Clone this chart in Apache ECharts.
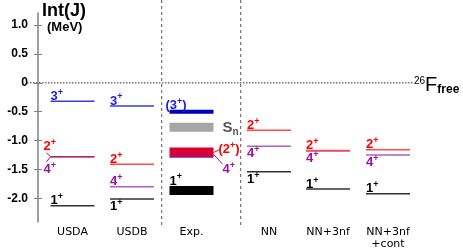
<!DOCTYPE html>
<html><head><meta charset="utf-8">
<script src="https://cdn.jsdelivr.net/npm/echarts@6/dist/echarts.min.js"></script>
<style>html,body{margin:0;padding:0;background:#fff}#c{width:463px;height:250px}</style>
</head><body><div id="c"></div>
<script>
// ---------------- data ----------------
const categories = ['USDA', 'USDB', 'Exp.', 'NN', 'NN+3nf', 'NN+3nf\n+cont'];
const level3 = [-0.32, -0.40, -0.50, null, null, null];
const level2 = [-1.28, -1.41, -1.19, -0.82, -1.17, -1.16];
const level4 = [-1.28, -1.80, -1.27, -1.10, -1.18, -1.25];
const level1 = [-2.13, -2.01, -1.864, -1.54, -1.84, -1.92];
const neutronSep = [null, null, -0.77, null, null, null];
const yTicks = [-2.0, -1.5, -1.0, -0.5, 0, 0.5, 1.0];

// ---------------- layout ----------------
const slotCenter = [34.5, 94, 153.5, 231, 290, 350];
const separatorX = [123.7, 202.7];
const HW = 22;
const EXP = 2;
const expBarH = { l3: 4, sn: 9, l2: 8, l4: 3, l1: 9 };
const place = {
  l3: ['a', 'a', 'expParen', '', '', ''],
  l2: ['usdaUp', 'a', 'expRight2', 'a', 'a', 'a'],
  l4: ['usdaDown', 'a', 'expRight4', 'b', 'b', 'b'],
  l1: ['a', 'b', 'a', 'b', 'a', 'a'],
  sn: ['', '', 'sn', '', '', '']
};
const MERGED_COLOR = '#b03062';
const FONT = 'Liberation Sans, Arial, sans-serif';

function rich(color) {
  return {
    n: { fontSize: 13, fontWeight: 'bold', fontFamily: FONT, fill: color, lineHeight: 15, verticalAlign: 'bottom' },
    s: { fontSize: 9, fontWeight: 'bold', fontFamily: FONT, fill: color, lineHeight: 15, verticalAlign: 'top' },
    big: { fontSize: 15, fontWeight: 'bold', fontFamily: FONT, fill: color, lineHeight: 18, verticalAlign: 'middle' },
    sub: { fontSize: 10, fontWeight: 'bold', fontFamily: FONT, fill: color, lineHeight: 18, verticalAlign: 'bottom' }
  };
}

function makeSeries(key, values, opt) {
  const data = [];
  values.forEach((v, i) => { if (v !== null) data.push([i, v]); });
  return {
    type: 'custom', name: key, data: data, silent: true, z: opt.z || 2,
    renderItem: function (params, api) {
      const i = api.value(0), v = api.value(1);
      const cx = slotCenter[i];
      const p1 = api.coord([cx - HW, v]), p2 = api.coord([cx + HW, v]);
      const y = p1[1];
      const children = [];
      let top = y, bottom = y;
      if (i === EXP) {
        const h = expBarH[key];
        top = y - h / 2; bottom = y + h / 2;
        children.push({ type: 'rect', shape: { x: p1[0], y: top, width: p2[0] - p1[0], height: h }, style: { fill: opt.expFill } });
      } else {
        const merged = key === 'l2' && level4[i] === level2[i];
        children.push({ type: 'line', shape: { x1: p1[0], y1: y, x2: p2[0], y2: y }, style: { stroke: merged ? MERGED_COLOR : opt.line, lineWidth: 1.5 } });
      }
      const pl = place[key][i];
      let tx = p1[0], ty = top + 1.5, va = 'bottom', txt = opt.text;
      if (pl === 'b') { ty = bottom - 1; va = 'top'; }
      else if (pl === 'usdaUp') {
        tx = p1[0] - 7; ty = y - 4;
        children.push({ type: 'polyline', shape: { points: [[p1[0] - 4, y - 4], [p1[0], y]] }, style: { stroke: opt.text_color, lineWidth: 1, fill: null } });
      } else if (pl === 'usdaDown') {
        tx = p1[0] - 7; ty = y + 4; va = 'top';
        children.push({ type: 'polyline', shape: { points: [[p1[0], y], [p1[0] - 4, y + 5]] }, style: { stroke: opt.text_color, lineWidth: 1, fill: null } });
      } else if (pl === 'expParen') {
        tx = p1[0] - 4; ty = top + 2; txt = '{n|(3}{s|+}{n|)}';
      } else if (pl === 'expRight2') {
        tx = p2[0] + 5; ty = y + 4; txt = '{n|(2}{s|+}{n|)}';
        children.push({ type: 'line', shape: { x1: p2[0], y1: y + 1, x2: p2[0] + 6, y2: y - 2 }, style: { stroke: opt.text_color, lineWidth: 1 } });
      } else if (pl === 'expRight4') {
        tx = p2[0] + 9; ty = y + 5; va = 'top';
        children.push({ type: 'line', shape: { x1: p2[0], y1: y - 2, x2: p2[0] + 9, y2: y + 8 }, style: { stroke: opt.text_color, lineWidth: 1 } });
      } else if (pl === 'sn') {
        tx = p2[0] + 9; ty = y + 1; va = 'middle';
      }
      children.push({
        type: 'text', x: tx, y: ty,
        style: { text: txt, rich: rich(opt.text_color), align: 'left', verticalAlign: va, fill: opt.text_color, fontSize: 13, fontWeight: 'bold', fontFamily: FONT }
      });
      return { type: 'group', children: children };
    }
  };
}

const chart = echarts.init(document.getElementById('c'), null, { renderer: 'canvas' });
const yRange = { min: -2.41, max: 1.21 };
chart.setOption({
  animation: false,
  backgroundColor: '#ffffff',
  grid: { left: 38, right: 50, top: 13, bottom: 27 },
  xAxis: {
    type: 'value', min: 0, max: 375,
    axisLine: { show: false }, axisTick: { show: false }, splitLine: { show: false },
    axisLabel: {
      customValues: slotCenter, margin: 4,
      formatter: function (val) { const k = slotCenter.indexOf(val); return k >= 0 ? categories[k] : ''; },
      fontFamily: 'DejaVu Sans', fontSize: 11, color: '#000', lineHeight: 12
    }
  },
  yAxis: [{
    type: 'value', min: yRange.min, max: yRange.max, position: 'left',
    axisLine: { show: true, lineStyle: { color: '#808080', width: 1.5 } },
    axisTick: { show: true, length: 4, customValues: yTicks, lineStyle: { color: '#808080', width: 1 } },
    splitLine: { show: false },
    axisLabel: {
      customValues: yTicks, margin: 10, fontFamily: FONT, fontSize: 12, fontWeight: 'bold', color: '#000',
      formatter: function (v) { return v === 0 ? '0' : v.toFixed(1); }
    }
  }, {
    type: 'value', min: yRange.min, max: yRange.max, position: 'left', offset: 0,
    axisLine: { show: false },
    axisTick: { show: true, inside: true, length: 4, customValues: yTicks, lineStyle: { color: '#808080', width: 1 } },
    axisLabel: { show: false }, splitLine: { show: false }
  }],
  series: [
    makeSeries('sn', neutronSep, { line: '#a6a6a6', expFill: '#a6a6a6', text_color: '#555555', text: '{big|S}{sub|n}' }),
    makeSeries('l3', level3, { line: '#3c3cd8', expFill: '#0000c0', text_color: '#1a1aee', text: '{n|3}{s|+}' }),
    makeSeries('l4', level4, { line: '#b060c0', expFill: '#98128a', text_color: '#9a10a8', text: '{n|4}{s|+}' }),
    makeSeries('l2', level2, { line: '#ff4a4a', expFill: '#dc0032', text_color: '#ff0000', text: '{n|2}{s|+}', z: 3 }),
    makeSeries('l1', level1, { line: '#333333', expFill: '#000000', text_color: '#000000', text: '{n|1}{s|+}' })
  ]
});

const y0 = chart.convertToPixel({ yAxisIndex: 0 }, 0);
const xL = chart.convertToPixel({ xAxisIndex: 0 }, 0);
const xR = chart.convertToPixel({ xAxisIndex: 0 }, 375);
const graphics = [];
separatorX.forEach(function (sx) {
  const px = chart.convertToPixel({ xAxisIndex: 0 }, sx);
  graphics.push({ type: 'line', shape: { x1: px, y1: 0, x2: px, y2: 228 }, style: { stroke: '#555', lineWidth: 1, lineDash: [3, 3] }, silent: true });
});
graphics.push({ type: 'line', shape: { x1: xL - 11, y1: y0, x2: xR, y2: y0 }, style: { stroke: '#333', lineWidth: 1, lineDash: [1.5, 1.5] }, silent: true });
graphics.push({
  type: 'text', x: xR + 1, y: y0 + 3,
  style: {
    text: '{a|26}{b|F}{c|free}', align: 'left', verticalAlign: 'middle',
    rich: {
      a: { fontSize: 10, fontFamily: FONT, fill: '#000', lineHeight: 20, verticalAlign: 'top' },
      b: { fontSize: 20, fontFamily: FONT, fill: '#000', lineHeight: 20, verticalAlign: 'middle' },
      c: { fontSize: 12, fontWeight: 'bold', fontFamily: FONT, fill: '#000', lineHeight: 20, verticalAlign: 'bottom' }
    }
  }, silent: true
});
graphics.push({ type: 'text', x: 42, y: 2, style: { text: 'Int(J)', fontSize: 18, fontWeight: 'bold', fontFamily: FONT, fill: '#000', align: 'left', verticalAlign: 'top' }, silent: true });
graphics.push({ type: 'text', x: 47, y: 21, style: { text: '(MeV)', fontSize: 13, fontWeight: 'bold', fontFamily: FONT, fill: '#000', align: 'left', verticalAlign: 'top' }, silent: true });
chart.setOption({ graphic: graphics });
</script>
</body></html>
